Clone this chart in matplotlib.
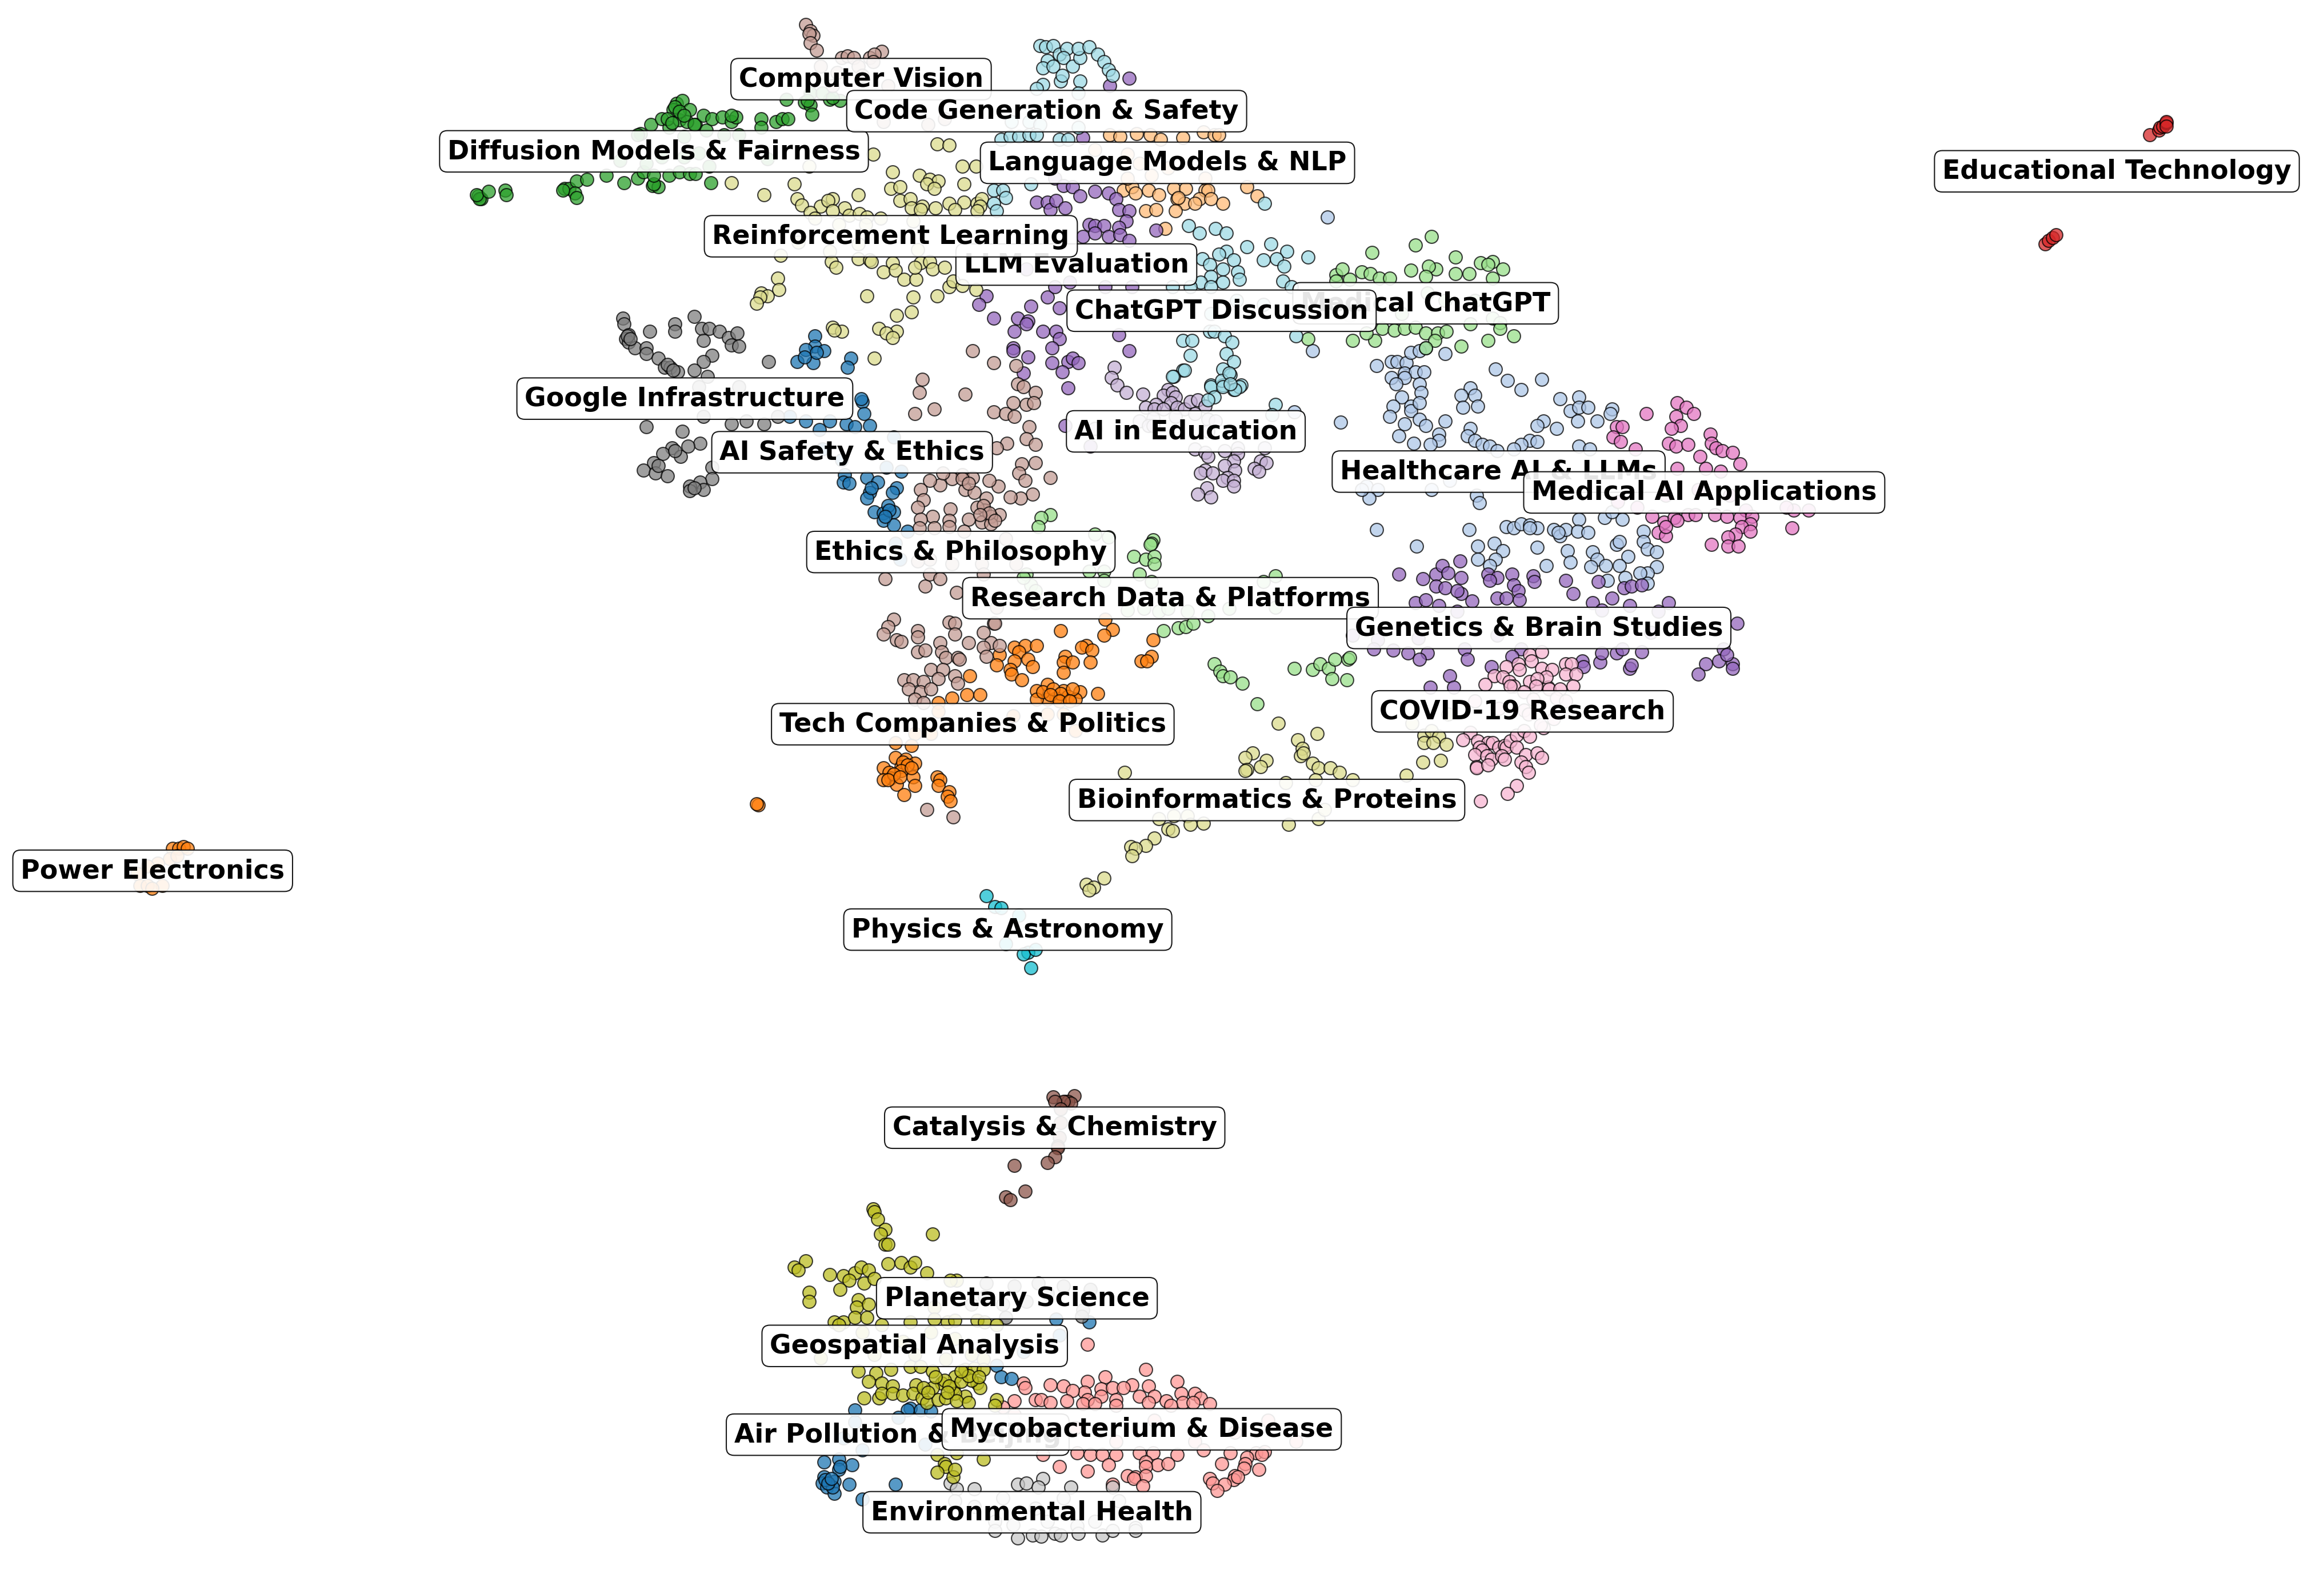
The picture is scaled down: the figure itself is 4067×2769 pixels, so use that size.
"""
Topic map of papers: clusters from a 2D embedding, one label per cluster
"""
import matplotlib
matplotlib.use("Agg")
import matplotlib.pyplot as plt

# points, (x, y) with y going down
air_pollution = [(574,947),(611,946),(609,947),(618,947),(625,948),(669,917),(672,925),(679,926),(709,886),(731,888),(687,908),(711,897),
    (574,955),(603,952),(566,966),(621,970),(579,974),(553,982),(563,980),(572,984),(563,987),(564,985),(553,992),(560,995),(570,997),(552,996),(555,999),(560,1003),(559,999),(601,997),(579,1007),(554,994),(556,996),(558,993)]
ai_safety = [(547,226),(547,233),(553,236),(541,235),(535,243),(546,244),(540,240),(571,241),(569,247),(548,237),
    (579,270),(580,278),(578,268),(584,286),(557,283),(541,283),(530,280),(568,285),(574,287),(550,289),(600,294),(605,317),(595,314),(565,309),(552,302),
    (567,319),(566,324),(570,325),(582,321),(589,324),(584,331),(582,335),(602,328),(599,331),(587,344),(593,345),(600,344),(596,340),(593,350),(600,353),(609,357),(601,365),(604,376),(597,343),(594,347),(585,328)]
healthcare = [(881,236),(891,146),(924,246),(934,243),(938,243),(944,244),(947,237),(953,236),(970,238),(957,234),(1004,248),(1012,256),(1021,262),(1035,255),(1047,268),(1060,267),(1054,276),(1060,274),(1066,274),(1059,283),(1072,283),(1082,275),(1081,278),(1036,283),(1032,286),(1045,288),(869,277),
    (943,251),(950,250),(956,250),(934,254),(943,254),(937,258),(953,258),(954,264),(941,267),(935,273),(947,273),(947,276),(953,271),(933,280),(953,282),(957,286),(943,285),(970,283),(939,293),(966,292),(966,296),(949,298),(960,299),(987,261),(981,266),(990,266),(982,274),(992,273),(900,284),(987,288),(985,293),(990,296),(995,299),(1000,300),(1005,303),(1027,296),(1032,297),(1021,299),(1016,302),(1060,300),(1067,302),
    (917,327),(925,329),(919,335),(914,329),(961,329),(991,333),(993,338),(973,323),(924,356),(986,356),(951,367),
    (1060,349),(1077,348),(1089,349),(1082,344),(1011,354),(1016,355),(1021,352),(1027,353),(1032,355),(1043,356),(1047,360),(1051,356),(1059,357),(1066,358),(1027,355),(1003,365),(992,367),(1009,370),(992,376),(1004,376),(1000,380),(1032,368),(1038,380),(1052,370),(1054,378),(1069,371),(1072,376),(1068,381),(1078,380),(1085,366),(1087,364),(1093,374),(1087,380),(1103,357),(1103,364),(1106,369),(1112,371),(1112,381),(1106,385),(1101,385),(1091,388),(1079,390),(1106,392),(1046,358)]
tech_politics = [(742,416),(747,423),(741,427),(712,424),(774,430),(773,441),(766,444),(770,444),(681,435),(688,434),(696,434),(684,438),(671,440),(690,443),(669,447),(681,444),(693,448),(678,450),(679,453),(686,457),(715,441),(714,445),(720,445),(714,452),(729,434),(726,435),(733,437),(732,445),(651,454),(737,466),(696,464),(703,460),(714,464),(725,465),(717,468),(709,469),(703,470),(722,470),(696,470),(658,467),(649,467),(639,469),(630,472),
    (700,465),(707,463),(712,466),(720,463),(705,467),(711,471),(718,471),
    (630,478),(703,480),(722,491),(680,481),(714,480),(614,493),(625,493),(601,499),
    (612,501),(601,509),(608,510),(614,513),(593,516),(597,519),(598,523),(605,515),(593,524),(602,527),(613,522),(614,528),(607,534),(629,522),(631,524),(630,528),(637,532),(636,535),(638,538),(509,541),(508,540),
    (606,512),(609,514),(605,518),(612,516),(600,520),(596,524),(604,522)]
power_electronics = [(116,570),(120,570),(123,569),(126,570),(114,577),(106,580),(119,575),(99,582),(92,587),(94,595),(99,595),(109,595),(102,597)]
language_models = [(745,91),(752,92),(763,90),(772,91),(779,94),(794,93),(808,89),(815,91),(818,91),(735,101),(757,104),(765,110),(773,118),(784,113),(809,120),
    (754,128),(760,126),(762,130),(771,128),(778,131),(788,127),(796,127),(809,128),(811,128),(805,134),(790,134),(795,137),(789,142),(802,137),(813,134),(821,137),(837,126),(844,132),(769,142),(776,141),(782,154),(791,133),(757,120)]
diffusion = [(321,132),(323,134),(322,134),(320,131),(328,129),(339,128),(340,131),(379,127),(382,127),(387,122),(394,121),(386,130),(387,133),(378,128),
    (407,118),(419,123),(428,120),(438,125),(442,126),(439,124),(432,116),(439,118),(449,118),(456,116),(463,117),(467,117),(476,112),(477,123),
    (416,108),(430,90),(437,84),(444,80),(449,86),(459,92),(467,84),(474,88),(486,91),(496,91),(515,107),(434,110),(444,106),(459,106),(469,103),(428,91),
    (454,70),(458,68),(452,74),(463,74),(448,80),(456,81),(461,82),(466,84),(472,78),(478,80),(485,79),(491,82),(494,79),(491,78),(511,80),(511,86),(521,82),(525,80),(529,80),
    (453,72),(456,75),(459,78),(451,83),
    (528,67),(540,69),(544,71),(545,77),(557,67),(564,68),(544,63),(552,63),(542,68),(559,66)]
medical_chatgpt = [(961,159),(950,165),(921,170),(977,173),(994,177),(1002,176),(1009,181),(999,178),(947,182),(964,181),(959,179),(977,184),(986,184),(897,185),(901,181),(914,183),(920,184),(926,187),(933,187),(957,186),(1002,187),(897,189),(906,188),
    (921,205),(958,197),(970,202),(990,202),(1002,214),(1007,217),(906,212),(941,211),
    (878,228),(908,229),(923,229),(917,224),(928,221),(936,222),(943,221),(950,220),(957,224),(965,224),(971,223),(963,229),(957,234),(981,233),(999,229),(1016,226),(1007,221),(987,218)]
research_data = [(774,363),(773,365),(772,366),(761,374),(769,376),(775,374),(775,379),(735,359),(744,361),(705,346),(699,348),(697,354),(689,386),(692,393),(731,384),(741,384),
    (781,424),(791,422),(796,421),(801,419),(811,414),(768,409),(757,410),(778,411),(797,411),(825,409),(856,408),(848,391),(856,387),(687,388),(695,397),(695,405),(741,390),(765,386),(773,391),(784,409),
    (815,446),(819,451),(821,454),(826,455),(834,459),(844,473),(869,449),(881,450),(886,446),(892,449),(896,443),(905,443),(906,442),(894,456),(904,457)]
educational_tech = [(1443,91),(1449,88),(1450,86),(1452,85),(1454,83),(1454,82),(1454,85),(1373,164),(1375,162),(1378,160),(1380,158)]
mycobacterium = [(730,903),(769,920),(742,925),(730,928),(705,930),(714,931),(687,929),(688,932),(760,930),(771,931),(790,928),(739,933),(747,932),(754,932),(728,935),(720,934),(695,940),(699,940),(705,942),(716,941),(681,941),(673,945),(730,940),(739,938),(749,940),(765,938),(775,938),(793,936),(802,936),(806,939),(812,943),(771,942),(783,941),(794,942),(801,942),(786,944),(749,944),(727,943),(735,943),
    (829,962),(870,968),(749,968),(695,962),(681,950),(722,959),(775,954),(802,968),(851,954),
    (700,977),(723,976),(732,977),(740,977),(749,977),(765,976),(774,976),(790,977),(808,974),(826,976),(843,976),(849,975),(847,977),(837,979),(711,985),(730,988),(744,984),(769,982),(777,984),(784,983),(769,985),(820,983),(836,983),(835,986),(845,987),(829,991),(828,994),(757,991),(762,992),(769,991),(761,993),(747,997),(767,998),(812,993),(814,996),(822,997),(817,1001),(831,992)]
llm_evaluation = [(758,53),(745,58),(727,93),(708,120),(714,125),(720,126),(725,132),(735,129),(744,130),(749,134),(696,136),(703,136),(705,141),(709,135),(715,140),(751,141),(758,142),(756,149),(751,153),(731,151),(735,152),(741,152),(727,159),(735,157),(744,159),(752,158),(758,162),(776,155),
    (662,199),(657,205),(703,200),(692,206),(711,207),(667,214),(683,214),(690,216),(689,218),(681,223),(700,223),(709,223),(711,228),(680,234),(680,236),(690,240),(706,234),(706,244),(717,243),(720,241),(724,244),(713,250),(687,251),(717,261),(751,225),(758,236),(742,193),(760,193),(708,193),(718,190),(689,181),(715,286),(732,300)]
genetics_brain = [(939,386),(955,389),(964,386),(968,380),(980,377),(972,385),(981,388),(999,386),(1005,388),(1015,386),(1000,390),(1029,387),(1030,391),(1051,390),(1073,391),(1090,395),(1095,394),(1102,393),(1056,399),(1082,402),(964,394),(970,395),(981,399),(978,397),(1016,393),(1019,397),(1020,403),(1005,402),(1011,402),(988,404),(950,405),(957,403),(966,407),(1069,405),(1120,405),(1094,407),
    (908,427),(925,430),(952,429),(1005,427),(1075,410),(1108,425),(978,411),(1113,411),
    (1166,419),(1157,436),(922,436),(935,437),(945,439),(958,439),(953,443),(983,436),(985,443),(1021,436),(1015,441),(1001,448),(1062,444),(1063,448),(1074,445),(1075,439),(1085,439),(1089,436),(1102,438),(1094,449),(1095,447),(1145,446),(1154,444),(1163,446),(1163,449),(1140,453),(1159,440),(973,454),(960,462),(976,462)]
ai_education = [(748,247),(746,254),(750,259),(756,264),(767,265),(784,262),(781,266),(787,264),(789,267),(776,272),(769,274),(786,271),(790,274),(795,275),(799,270),(804,269),(809,273),(775,275),(781,275),
    (765,283),(774,281),(789,280),(802,278),(811,282),(816,283),(771,286),(774,286),(811,290),(735,288),
    (802,302),(809,304),(811,307),(822,303),(831,301),(831,305),(828,310),(822,313),(829,316),(809,316),(806,318),(814,318),(824,321),(821,323),(828,323),(828,327),(849,301),(846,310),(850,311),(842,315),(845,317),(810,328),(804,332),(813,334)]
catalysis = [(707,737),(721,736),(715,740),(717,740),(719,741),(714,740),(708,740),(712,745),(712,754),(711,764),(710,770),(710,771),(708,777),(703,781),(681,783),(688,800),(675,804),(678,806)]
computer_vision = [(541,17),(544,21),(546,24),(543,23),(544,29),(548,34),(565,39),(569,38),(573,39),(584,39),(592,35),(587,37),(551,45),(562,49),(576,45),(586,42),(559,58),(596,58),(579,51),(593,82),(623,84),(634,80)]
ethics_philosophy = [(653,236),(667,244),(619,255),(617,264),(648,265),(614,278),(627,275),(682,246),(683,258),(687,260),(695,264),(680,271),(689,272),(694,271),(667,277),(675,278),(681,280),(691,287),(689,295),(695,299),(676,298),(669,301),(695,311),(686,312),(684,318),(688,323),(705,321),(670,327),(664,323),(693,332),(685,335),(678,334),(646,319),(639,322),(653,321),(631,326),(624,323),(618,329),(648,329),(654,331),(662,335),(620,336),(616,341),(638,342),(661,343),(656,341),(671,346),(665,347),(626,347),(618,349),(650,349),(637,350),(659,351),(665,352),(627,355),(637,354),(617,355),(647,357),(633,318),
    (660,340),(664,345),(658,346),(668,350),(646,322),(650,325),
    (624,376),(639,379),(616,377),(659,379),(675,362),(682,379),(594,389),(621,394),(624,386),(631,389),(642,398),(660,386),(669,408),(667,419),
    (600,416),(596,421),(593,426),(602,430),(605,431),(616,424),(616,428),(637,418),(641,419),(641,426),(650,432),(660,425),(668,419),(665,432),(671,434),(660,435),(662,441),(631,432),(616,438),(621,437),(632,438),(635,442),(643,442),(644,443),(625,450),(633,450),(630,456),(641,454),(643,459),(607,457),(613,457),(620,458),(610,463),(618,465),(625,463),(614,470),(620,472),(622,544),(640,549)]
medical_ai = [(1105,278),(1126,271),(1132,274),(1137,278),(1125,280),(1128,286),(1122,288),(1085,287),(1089,287),(1083,294),(1088,297),(1148,292),(1149,298),(1120,298),(1125,300),(1133,299),(1098,302),(1152,301),(1156,303),(1163,304),(1141,307),(1168,312),(1126,315),(1145,315),(1155,317),
    (1086,337),(1099,341),(1118,333),(1140,329),(1161,333),(1204,343),(1214,343),(1199,341),(1172,343),
    (1109,347),(1117,351),(1124,348),(1133,346),(1138,346),(1113,358),(1118,360),(1126,350),(1151,346),(1159,347),(1168,348),(1176,347),(1175,352),(1169,354),(1175,357),(1165,359),(1160,361),(1149,366),(1160,367),(1167,367),(1203,355),(1118,354)]
covid = [(1011,448),(1003,454),(1009,455),(1019,446),(1027,440),(1035,438),(1028,444),(1020,450),(1035,449),(1042,450),(1051,446),(1055,446),(1051,453),(1058,453),(1013,458),(1016,461),(1027,458),(1039,462),(1056,461),(1038,455),(1032,456),
    (997,460),(1014,461),(1031,461),(1040,463),(1047,463),(990,471),(1006,476),(1023,465),(1029,470),(1023,477),(1026,480),(1036,489),(1043,483),(1034,487),(1045,469),(1051,471),
    (987,492),(982,497),(992,498),(999,499),(1002,499),(993,502),(995,504),(990,507),(998,508),(1001,510),(991,515),(991,516),(999,514),(1006,502),(1010,501),(1011,502),(1008,508),(1010,510),(1014,498),(1018,494),(1023,491),(1027,495),(1018,502),(1024,507),(1021,512),(1024,515),(1026,519),(1032,506),(1035,509),(1018,528),(1012,533),(994,538)]
google_infra = [(418,214),(419,218),(422,225),(420,228),(422,230),(426,234),(436,223),(453,218),(453,223),(466,213),(471,221),(476,221),(483,223),(472,229),(489,227),(495,224),(491,232),(496,233),(434,234),(434,238),(442,241),(446,247),(450,247),(455,250),(478,239),(472,243),(466,249),(475,253),(516,243),(469,260),(496,260),
    (421,226),(423,228),(448,245),(452,249),
    (472,280),(491,285),(501,283),(513,285),(522,280),(434,287),(458,290),(470,298),(451,301),(445,305),(457,307),(462,300),(439,311),(432,316),(440,318),(448,320),(478,314),(478,322),(470,324),(463,327),(463,330),(472,329),(453,303),(442,313),(466,328)]
planetary = [(662,862),(681,864),(697,862),(714,864),(732,866),(652,876),(673,876),(727,880),(689,874),(703,869),(661,871),(675,885),(726,884)]
environmental = [(638,996),(642,1000),(654,1000),(683,997),(689,996),(700,993),(697,999),(719,999),(747,999),
    (641,1008),(654,1012),(673,1006),(695,1013),(714,1006),(751,1008),(668,1022),(680,1024),(703,1022),(735,1022),(762,1026),(723,1025),
    (683,1033),(693,1031),(699,1032),(708,1030),(712,1031),(724,1030),(740,1031),(747,1028),(762,1028),(668,1028)]
geospatial = [(586,812),(587,814),(589,819),(594,826),(591,829),(594,836),(596,836),(626,829),
    (533,851),(541,847),(536,853),(557,856),(566,857),(574,855),(578,851),(583,853),(570,860),(580,862),(596,849),(605,848),(611,851),(614,848),(622,855),(587,859),(543,868),(543,874),(564,866),(576,873),(575,878),(583,876),(642,860),(638,860),(627,878),
    (560,888),(566,888),(574,885),(582,885),(592,890),(611,888),(627,886),(636,888),(641,887),(656,887),(661,888),(669,890),
    (551,912),(563,890),(587,910),(579,895),(606,901),(625,895),(641,899),(652,910),(635,913),(660,913),(614,910),
    (576,921),(588,922),(598,920),(611,918),(618,918),(626,921),(583,928),(592,929),(599,931),(615,930),(632,929),(641,925),(648,920),(654,919),(660,920),(656,929),(658,932),(652,927),(640,932),(626,932),(648,938),(641,936),(580,939),(590,939),(592,936),(599,936),(606,937),(613,936),(619,939),(622,942),(630,940),(635,939),(642,941),(650,942),(669,940),(668,944),
    (634,927),(637,931),(645,928),(650,924),(645,921),(657,925),(628,925),(620,932),(623,935),(636,935),
    (629,977),(642,976),(660,980),(634,983),(635,985),(629,989),(640,992),(641,987)]
reinforcement = [(491,123),(513,131),(533,124),(535,134),(538,138),(543,112),(576,131),(586,104),(599,116),(598,127),(604,126),(617,118),(624,121),(630,122),(622,124),(627,127),(629,97),(637,98),(647,124),(646,112),(655,112),
    (551,139),(559,134),(556,135),(567,140),(544,143),(559,142),(570,145),(577,144),(582,146),(604,135),(611,134),(612,140),(619,139),(618,141),(628,140),(637,137),(647,136),(641,141),(656,137),(659,134),(658,139),(656,142),
    (547,147),(563,151),(581,151),(591,147),(613,149),(536,163),(557,169),(576,164),(616,168),
    (524,172),(558,176),(561,180),(576,174),(584,175),(585,176),(599,177),(593,183),(601,182),(607,188),(615,188),(618,177),(614,180),(624,176),(626,181),(634,180),(637,193),(640,189),(646,192),(655,195),
    (522,187),(523,195),(511,197),(515,199),(510,200),(508,204),(582,199),(613,200),(629,199),(602,212),(612,210),(559,220),(565,223),(560,222),(590,221),(602,223),(595,224),(599,227),(587,241)]
bioinformatics = [(858,486),(884,493),(871,497),(874,503),(873,508),(875,506),(841,506),(836,509),(850,511),(846,515),(837,517),(836,518),(881,513),(885,516),(893,516),(899,519),(908,524),(883,524),(755,519),(863,526),
    (778,550),(788,548),(797,548),(799,554),(808,553),(784,557),(787,558),(865,554),(885,550),(889,544),(775,563),(769,568),(759,569),(762,570),(760,575),(741,590),(729,594),(734,596),(731,598),
    (956,494),(961,491),(966,495),(956,499),(962,499),(971,500),(955,512),(967,511),(944,521),(948,486),(972,480)]
physics = [(662,602),(668,609),(672,610),(684,615),(675,634),(690,640),(687,641),(695,638),(692,650)]
code_generation = [(698,31),(702,32),(707,31),(703,41),(700,46),(707,45),(711,37),(716,33),(714,39),(720,45),(725,39),(724,33),(731,32),(737,37),(741,42),(744,47),(747,51),(725,55),(712,55),(700,57),(696,60),(713,51),(724,63),
    (679,82),(691,82),(698,84),(672,94),(678,92),(684,92),(691,91),(696,91),(711,94),(717,94),(724,86),(667,128),(673,128),(675,133),(667,137),(692,124),(669,142)]
chatgpt_discussion = [(849,137),(798,152),(805,157),(816,154),(823,157),(837,166),(853,164),(864,169),(857,174),(848,175),(862,179),(878,173),(861,189),(867,193),(807,174),(823,169),(818,171),(828,175),(812,178),(821,181),(831,183),(813,186),(832,188),(821,190),(806,190),(799,193),(813,193),(787,193),
    (830,202),(848,205),(813,211),(872,200),
    (794,229),(800,229),(799,239),(812,223),(815,223),(822,226),(827,230),(823,238),(828,243),(821,248),(826,252),(833,259),(821,259),(828,262),(813,259),(794,249),(788,253),(870,226),
    (787,253),(795,249),(813,260),(815,267),(811,269),(820,256),(825,251),(832,260),(829,262),(821,260),(826,258),(856,272),(854,279)]

# one entry per cluster, in drawing order
clusters = [air_pollution, ai_safety, healthcare, tech_politics, power_electronics, language_models,
            diffusion, medical_chatgpt, research_data, educational_tech, mycobacterium, llm_evaluation,
            genetics_brain, ai_education, catalysis, computer_vision, ethics_philosophy, medical_ai, covid,
            google_infra, planetary, environmental, geospatial, reinforcement, bioinformatics, physics,
            code_generation, chatgpt_discussion]
labels = ["Air Pollution & Beijing", "AI Safety & Ethics", "Healthcare AI & LLMs", "Tech Companies & Politics",
          "Power Electronics", "Language Models & NLP", "Diffusion Models & Fairness", "Medical ChatGPT",
          "Research Data & Platforms", "Educational Technology", "Mycobacterium & Disease", "LLM Evaluation",
          "Genetics & Brain Studies", "AI in Education", "Catalysis & Chemistry", "Computer Vision",
          "Ethics & Philosophy", "Medical AI Applications", "COVID-19 Research", "Google Infrastructure",
          "Planetary Science", "Environmental Health", "Geospatial Analysis", "Reinforcement Learning",
          "Bioinformatics & Proteins", "Physics & Astronomy", "Code Generation & Safety", "ChatGPT Discussion"]
label_x = [602.6, 572, 1006, 653, 102.5, 783.7, 439, 957, 785.7, 1421, 766.4, 722.5, 1033, 796, 708, 578, 645, 1144,
           1022, 459.7, 682.6, 692.7, 614, 598, 850.5, 676.5, 702.6, 820]
label_y = [963.6, 304, 317, 486.6, 585, 109.7, 102, 204, 402, 115.4, 960, 178, 422, 290, 757.5, 53.5, 371, 331, 478,
           268, 872, 1015.7, 904, 159, 537.5, 624.5, 75, 209]
colors = ["#1f77b4", "#1f77b4", "#aec7e8", "#ff7f0e", "#ff7f0e", "#ffbb78", "#2ca02c", "#98df8a", "#98df8a",
          "#d62728", "#ff9896", "#9467bd", "#9467bd", "#c5b0d5", "#8c564b", "#c49c94", "#c49c94", "#e377c2",
          "#f7b6d2", "#7f7f7f", "#7f7f7f", "#c7c7c7", "#bcbd22", "#dbdb8d", "#dbdb8d", "#17becf", "#9edae5", "#9edae5"]

fig = plt.figure(figsize=(4067 / 300, 2770 / 300), dpi=300)
ax = fig.add_axes([0, 0, 1, 1])

for pts, color in zip(clusters, colors):
    xs = [p[0] for p in pts]
    ys = [p[1] for p in pts]
    ax.scatter(xs, ys, s=30, color=color, alpha=0.75, edgecolors="black", linewidths=0.5)

for name, cx, cy in zip(labels, label_x, label_y):
    ax.text(cx, cy, name, fontsize=11, fontweight="bold", ha="center", va="center",
            bbox=dict(boxstyle="round,pad=0.3", facecolor="white", edgecolor="black", alpha=0.9, linewidth=0.5))

ax.set_xlim(0, 4067 / 2.607)
ax.set_ylim(2770 / 2.607, 0)
ax.axis("off")

fig.savefig("out.png", dpi=300)
